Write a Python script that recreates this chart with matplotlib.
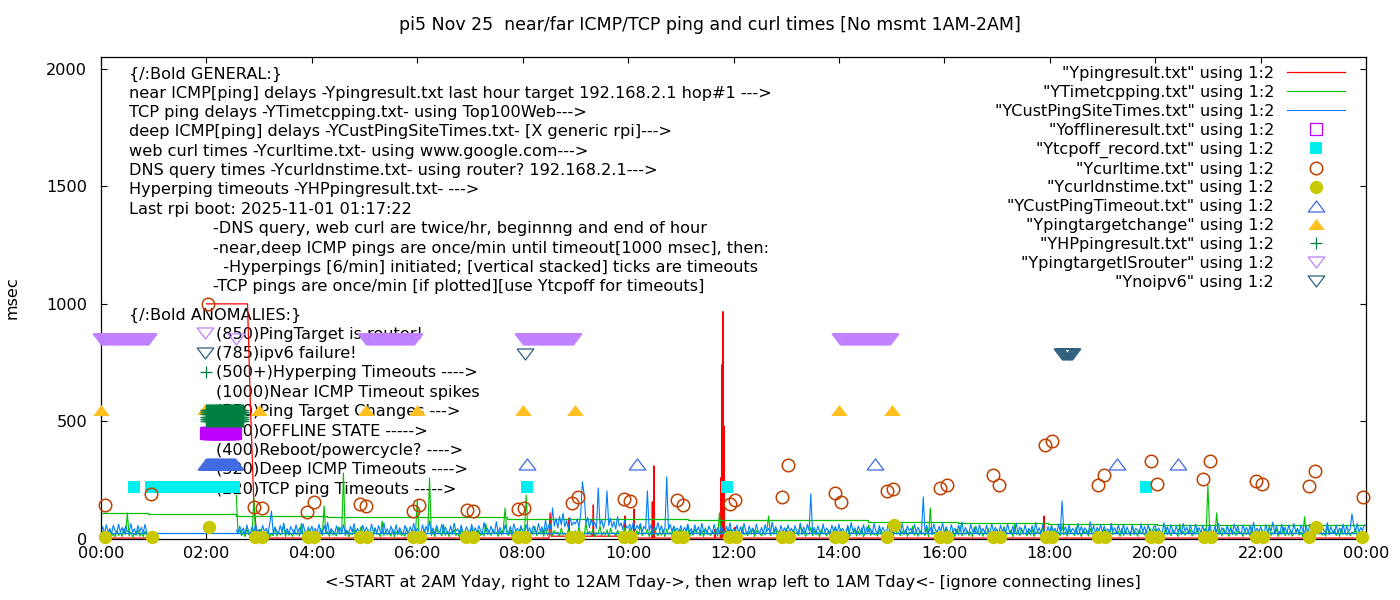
import numpy as np
import matplotlib.pyplot as plt
from matplotlib.path import Path

plt.rcParams['font.family'] = ['DejaVu Sans']
FS = 11.6
plt.rcParams['font.size'] = FS

# ---------------- data: x in hours after 00:00, y in msec ----------------
# deep ICMP (blue), 2-minute samples: 00:00-00:52, 02:34-02:58, then one row per hour 03..23
blue_0 = [30, 52, 24, 61, 28, 45, 22, 58, 35, 26, 63, 30, 49, 23, 55, 33, 27, 66, 29, 44,
          21, 57, 31, 50, 25, 62, 28]
blue_2 = [38, 24, 55, 29, 47, 22, 60, 33, 26, 52, 30, 64, 27]
blue_hours = [
    [41, 25, 58, 30, 46, 23, 62, 119, 28, 50, 35, 24, 57, 31, 68, 26, 44, 22, 53, 36, 27, 60, 29, 48, 24, 65, 33, 25, 51, 30],
    [55, 27, 46, 23, 63, 32, 26, 58, 29, 71, 25, 44, 34, 22, 56, 30, 49, 24, 61, 28, 37, 23, 54, 31, 66, 26, 45, 33, 24, 59],
    [28, 50, 35, 22, 64, 29, 47, 25, 57, 32, 26, 69, 30, 43, 23, 55, 34, 27, 61, 24, 48, 31, 22, 58, 36, 26, 52, 29, 67, 25],
    [45, 30, 23, 60, 28, 54, 33, 76, 26, 47, 22, 58, 35, 29, 63, 24, 50, 31, 27, 56, 23, 68, 32, 44, 25, 59, 30, 26, 52, 34],
    [27, 62, 29, 48, 24, 57, 36, 23, 70, 31, 45, 26, 54, 33, 28, 74, 25, 49, 30, 22, 60, 35, 27, 53, 24, 65, 32, 46, 29, 57],
    [34, 25, 61, 30, 48, 23, 56, 37, 28, 66, 31, 52, 26, 80, 35, 62, 42, 132, 55, 88, 47, 96, 60, 110, 52, 78, 45, 90, 58, 72],
    [64, 85, 50, 102, 243, 190, 66, 92, 48, 84, 57, 70, 45, 217, 60, 82, 47, 76, 205, 58, 88, 50, 74, 42, 95, 55, 68, 40, 80, 52],
    [46, 63, 38, 72, 35, 58, 44, 66, 30, 54, 41, 205, 36, 60, 28, 52, 39, 70, 33, 57, 26, 48, 264, 40, 62, 31, 55, 36, 47, 29],
    [57, 26, 49, 34, 64, 28, 45, 23, 60, 31, 52, 25, 67, 30, 43, 24, 56, 35, 27, 62, 29, 48, 22, 58, 33, 26, 54, 30, 69, 25],
    [44, 31, 59, 24, 52, 28, 66, 33, 23, 55, 30, 47, 26, 63, 35, 27, 50, 22, 61, 32, 45, 25, 72, 29, 53, 34, 24, 58, 28, 48],
    [26, 60, 31, 46, 23, 57, 34, 27, 68, 30, 51, 24, 62, 36, 192, 28, 49, 25, 56, 32, 22, 64, 29, 47, 35, 26, 59, 30, 53, 24],
    [63, 29, 45, 33, 22, 58, 27, 70, 31, 48, 25, 55, 36, 28, 61, 24, 52, 30, 44, 23, 67, 34, 26, 57, 29, 50, 32, 25, 62, 28],
    [47, 24, 59, 31, 53, 27, 65, 30, 22, 56, 35, 45, 26, 62, 29, 50, 33, 24, 179, 30, 58, 27, 48, 23, 64, 36, 28, 54, 31, 69],
    [25, 52, 34, 27, 61, 29, 46, 23, 57, 32, 72, 26, 49, 30, 24, 63, 35, 28, 55, 22, 60, 31, 45, 26, 58, 33, 25, 66, 29, 50],
    [36, 24, 59, 30, 47, 27, 64, 33, 22, 55, 29, 68, 25, 51, 35, 28, 60, 23, 46, 31, 57, 26, 70, 30, 48, 24, 62, 34, 27, 53],
    [29, 58, 32, 46, 25, 63, 30, 162, 35, 52, 24, 60, 28, 45, 33, 22, 66, 30, 54, 26, 48, 36, 27, 74, 31, 57, 23, 50, 34, 61],
    [26, 55, 30, 44, 23, 67, 32, 48, 25, 59, 34, 28, 63, 24, 51, 31, 22, 57, 29, 46, 36, 27, 65, 30, 53, 25, 60, 33, 24, 49],
    [58, 28, 47, 31, 25, 69, 30, 52, 23, 61, 34, 27, 55, 29, 44, 24, 66, 32, 50, 26, 59, 35, 22, 63, 30, 48, 27, 56, 31, 45],
    [24, 62, 33, 27, 52, 29, 67, 25, 48, 36, 23, 58, 30, 45, 26, 64, 32, 55, 28, 22, 60, 34, 49, 27, 57, 24, 70, 31, 46, 29],
    [53, 30, 25, 61, 28, 47, 35, 72, 26, 56, 31, 22, 63, 29, 50, 24, 58, 34, 27, 66, 30, 45, 23, 59, 36, 28, 54, 25, 62, 32],
    [27, 65, 31, 48, 24, 57, 35, 29, 70, 26, 52, 33, 23, 60, 30, 46, 28, 63, 25, 55, 34, 42, 107, 58, 31, 66, 27, 49, 36, 60],
]
blue_wrap = 26

# TCP ping (green), same sampling
green_0 = [14, 32, 10, 25, 18, 40, 12, 22, 9, 36, 15, 28, 11, 44, 20, 111, 13, 30, 8, 24,
           16, 38, 12, 27, 10, 33, 17]
green_2 = [187, 22, 40, 14, 31, 10, 45, 18, 27, 12, 175, 20, 36]
green_hours = [
    [15, 42, 11, 28, 19, 35, 9, 24, 14, 50, 12, 30, 17, 22, 60, 10, 33, 16, 26, 11, 41, 18, 29, 13, 66, 20, 25, 9, 37, 15],
    [12, 34, 19, 27, 10, 45, 15, 141, 22, 31, 11, 38, 17, 24, 13, 52, 20, 28, 281, 14, 35, 9, 26, 18, 43, 12, 30, 16, 53, 21],
    [25, 11, 39, 16, 28, 13, 47, 20, 23, 10, 76, 15, 33, 18, 26, 12, 42, 9, 31, 17, 37, 14, 24, 11, 48, 19, 29, 13, 36, 22],
    [166, 17, 30, 12, 41, 19, 27, 260, 14, 35, 10, 45, 22, 26, 13, 61, 16, 33, 11, 28, 20, 39, 15, 24, 9, 43, 18, 31, 12, 37],
    [13, 49, 21, 27, 10, 36, 16, 25, 12, 65, 19, 30, 14, 41, 22, 28, 11, 34, 17, 45, 132, 23, 15, 38, 10, 31, 20, 26, 13, 44],
    [40, 16, 187, 24, 11, 33, 19, 53, 14, 29, 21, 38, 12, 46, 17, 27, 63, 15, 35, 22, 30, 10, 47, 18, 25, 13, 42, 20, 32, 16],
    [35, 14, 51, 23, 28, 12, 71, 19, 33, 16, 43, 11, 27, 21, 55, 15, 30, 18, 39, 10, 46, 24, 26, 13, 37, 20, 31, 14, 48, 17],
    [21, 45, 15, 29, 12, 35, 19, 60, 14, 27, 22, 41, 11, 33, 17, 49, 24, 13, 30, 16, 38, 10, 43, 20, 28, 15, 54, 12, 34, 18],
    [39, 13, 26, 20, 53, 11, 31, 16, 43, 23, 27, 14, 36, 10, 47, 19, 25, 15, 33, 21, 40, 12, 111, 17, 29, 24, 35, 11, 44, 18],
    [16, 41, 22, 29, 12, 51, 18, 27, 14, 33, 20, 45, 10, 37, 25, 23, 13, 31, 17, 39, 98, 15, 28, 21, 43, 11, 35, 19, 26, 14],
    [45, 17, 30, 12, 40, 23, 27, 15, 63, 19, 33, 11, 25, 21, 49, 14, 35, 18, 29, 10, 42, 22, 26, 13, 37, 16, 31, 20, 52, 12],
    [25, 43, 14, 31, 19, 53, 11, 28, 22, 39, 13, 34, 17, 47, 10, 27, 21, 61, 15, 33, 18, 24, 12, 41, 20, 29, 14, 36, 16, 45],
    [35, 13, 49, 21, 27, 14, 33, 19, 41, 11, 29, 23, 55, 16, 31, 12, 38, 20, 26, 15, 44, 10, 132, 18, 30, 22, 37, 13, 28, 17],
    [19, 47, 15, 29, 22, 34, 11, 41, 17, 57, 13, 26, 20, 36, 14, 31, 10, 51, 24, 27, 16, 39, 12, 33, 19, 45, 15, 28, 21, 35],
    [41, 12, 33, 18, 53, 15, 27, 22, 39, 10, 65, 19, 29, 14, 45, 21, 26, 13, 35, 17, 43, 11, 31, 24, 28, 16, 49, 20, 34, 13],
    [27, 49, 16, 35, 21, 30, 14, 57, 19, 31, 12, 43, 23, 26, 15, 51, 18, 29, 11, 39, 25, 33, 13, 45, 20, 28, 16, 37, 22, 30],
    [16, 41, 20, 29, 13, 55, 18, 27, 23, 33, 11, 45, 15, 37, 21, 26, 14, 59, 19, 31, 12, 40, 24, 28, 17, 35, 10, 47, 22, 29],
    [45, 15, 35, 21, 27, 12, 51, 18, 31, 14, 41, 23, 26, 11, 63, 19, 33, 16, 29, 22, 39, 13, 27, 20, 47, 15, 34, 12, 43, 18],
    [230, 41, 25, 33, 16, 111, 20, 29, 14, 45, 22, 27, 12, 53, 18, 31, 15, 37, 23, 26, 11, 41, 19, 30, 13, 49, 21, 28, 16, 35],
    [21, 39, 13, 29, 18, 57, 15, 27, 22, 43, 11, 33, 20, 49, 14, 31, 17, 38, 12, 25, 23, 45, 16, 30, 10, 94, 19, 35, 14, 27],
    [39, 14, 31, 21, 47, 16, 27, 12, 53, 19, 29, 23, 41, 15, 35, 11, 45, 20, 26, 17, 37, 13, 30, 22, 43, 16, 28, 12, 36, 21],
]
# green connecting line (step levels)
green_wrap_x = [0, 0.89, 2.56, 4.29, 7.70, 11.14, 14.55, 16.26, 17.97, 20.03, 24]
green_wrap_y = [112, 106, 98, 95, 85, 81, 72, 68, 64, 60, 60]

# near ICMP (red)
red_pts = [(0.0, 4), (0.88, 4), (np.nan, np.nan),
           (2.0, 1000), (2.78, 1000), (2.83, 600), (2.90, 150), (2.96, 4),
           (8.50, 4), (8.52, 111), (8.54, 12), (8.87, 12), (8.88, 89), (8.89, 12),
           (9.33, 12), (9.34, 145), (9.35, 12), (9.93, 12), (9.94, 98), (9.95, 4),
           (10.10, 4), (10.11, 128), (10.12, 4), (10.45, 4), (10.46, 158), (10.47, 4),
           (10.48, 4), (10.49, 311), (10.50, 4), (11.64, 4), (11.65, 40), (11.66, 4),
           (11.75, 4), (11.76, 260), (11.77, 4), (11.78, 741), (11.79, 4),
           (11.80, 967), (11.81, 4), (11.82, 481), (11.83, 4), (12.02, 4),
           (12.03, 50), (12.04, 4), (17.88, 4), (17.89, 98), (17.90, 4), (24.0, 4)]

# curl times
curl_t = [0.08, 0.95, 2.03, 2.90, 3.05, 3.91, 4.04, 4.91, 5.03, 5.92, 6.03, 6.94,
          7.06, 7.91, 8.03, 8.94, 9.05, 9.92, 10.04, 10.93, 11.04, 11.93, 12.03,
          12.92, 13.03, 13.93, 14.04, 14.91, 15.03, 15.92, 16.05, 16.92, 17.04,
          17.91, 18.04, 18.91, 19.03, 19.92, 20.03, 20.91, 21.04, 21.91, 22.03,
          22.92, 23.03, 23.94]
curl_v = [145, 192, 1001, 136, 132, 115, 158, 149, 141, 119, 145, 124,
          119, 128, 132, 153, 179, 170, 162, 166, 145, 149, 166,
          179, 315, 196, 158, 205, 213, 217, 230, 273, 230,
          400, 418, 230, 273, 332, 234, 256, 332, 247, 234,
          226, 290, 179]

# DNS times
dns_t = [0.07, 0.97, 2.05, 2.92, 3.05, 3.92, 4.05, 4.92, 5.05, 5.92, 6.05, 6.92,
         7.05, 7.92, 8.05, 8.92, 9.05, 9.92, 10.05, 10.92, 11.05, 11.92, 12.05,
         12.92, 13.05, 13.92, 14.05, 14.92, 15.05, 15.92, 16.05, 16.92, 17.05,
         17.92, 18.05, 18.92, 19.05, 19.92, 20.05, 20.92, 21.05, 21.92, 22.05,
         22.92, 23.05, 23.92]
dns_v = [8, 8, 51, 8, 8, 8, 8, 8, 8, 8, 8, 8,
         8, 8, 8, 8, 8, 8, 8, 8, 8, 8, 8,
         8, 8, 8, 8, 8, 60, 8, 8, 8, 8,
         8, 8, 8, 8, 8, 8, 8, 8, 8, 8,
         8, 51, 8]

# event markers: (first, last) hour of once-per-minute records, and level
offline_spans = [(1.99, 2.54)]
offline_lvl = 450
tcpoff_spans = [(0.63, 0.63), (0.95, 2.52), (8.08, 8.08), (11.88, 11.88), (19.83, 19.83)]
tcpoff_lvl = 220
custto_spans = [(1.99, 2.54), (8.08, 8.08), (10.17, 10.17), (14.69, 14.69),
                (19.28, 19.28), (20.44, 20.44)]
custto_lvl = 320
target_t = [0.0, 3.0, 5.03, 6.0, 8.0, 9.0, 14.0, 15.0]
target_lvl = 550
hp_spans = [(1.99, 2.69)]
hp_lvls = [500, 510, 520, 530, 540, 550]
router_spans = [(0.0, 0.90), (2.57, 2.57), (5.03, 5.94), (8.01, 8.96), (14.02, 14.97)]
router_lvl = 850
noipv6_spans = [(8.05, 8.05), (18.24, 18.43)]
noipv6_lvl = 785

general_lines = [
    "{/:Bold GENERAL:}",
    "near ICMP[ping] delays -Ypingresult.txt last hour target 192.168.2.1 hop#1 --->",
    "TCP ping delays -YTimetcpping.txt- using Top100Web--->",
    "deep ICMP[ping] delays -YCustPingSiteTimes.txt- [X generic rpi]--->",
    "web curl times -Ycurltime.txt- using www.google.com--->",
    "DNS query times -Ycurldnstime.txt- using router? 192.168.2.1--->",
    "Hyperping timeouts -YHPpingresult.txt- --->",
    "Last rpi boot: 2025-11-01 01:17:22",
]
note_lines = [
    "-DNS query, web curl are twice/hr, beginnng and end of hour",
    "-near,deep ICMP pings are once/min until timeout[1000 msec], then:",
    "  -Hyperpings [6/min] initiated; [vertical stacked] ticks are timeouts",
    "-TCP pings are once/min [if plotted][use Ytcpoff for timeouts]",
]
anomaly_lines = [
    "(850)PingTarget is router!",
    "(785)ipv6 failure!",
    "(500+)Hyperping Timeouts ---->",
    "(1000)Near ICMP Timeout spikes",
    "(550)Ping Target Changes --->",
    "(450)OFFLINE STATE ----->",
    "(400)Reboot/powercycle? ---->",
    "(320)Deep ICMP Timeouts ---->",
    "(220)TCP ping Timeouts ----->",
]


def per_minute(spans):
    t = []
    for a, b in spans:
        t.extend(np.arange(a, b + 1e-6, 1 / 60.0))
    return np.array(t)


def build(first, second, hours):
    # 2-minute samples -> (t, y) with a break in the no-data gap
    step = 2 / 60.0
    t = [np.arange(len(first)) * step, [np.nan], 2 + 34 / 60 + np.arange(len(second)) * step]
    y = [first, [np.nan], second]
    for i, row in enumerate(hours):
        t.append(3 + i + np.arange(len(row)) * step)
        y.append(row)
    return np.concatenate(t), np.concatenate(y).astype(float)


blue_t, blue_y = build(blue_0, blue_2, blue_hours)
green_t, green_y = build(green_0, green_2, green_hours)
red_t = [p[0] for p in red_pts]
red_y = [p[1] for p in red_pts]

tri_up = Path([(-1, -0.66), (1, -0.66), (0, 0.66), (0, 0)], closed=True)
tri_dn = Path([(-1, 0.66), (1, 0.66), (0, -0.66), (0, 0)], closed=True)

W, H = 1400, 600
fig = plt.figure(figsize=(14, 6), dpi=100)
ax = fig.add_axes([101 / W, 61 / H, 1265 / W, 482 / H])


def fx(px):
    return px / W


def fy(py):
    return 1 - py / H


# ---------------- plotting ----------------
ax.plot(red_t, red_y, color='#ff0000', lw=0.9, zorder=2,
        label='"Ypingresult.txt" using 1:2')
ax.plot(green_t, green_y, color='#00c000', lw=0.8, zorder=2.1,
        label='"YTimetcpping.txt" using 1:2')
ax.step(green_wrap_x, green_wrap_y, where='post', color='#00c000', lw=0.9, zorder=2.1)
ax.plot(blue_t, blue_y, color='#0080ff', lw=0.8, zorder=2.2,
        label='"YCustPingSiteTimes.txt" using 1:2')
ax.plot([0, 24], [blue_wrap, blue_wrap], color='#0080ff', lw=0.9, zorder=2.2)

t = per_minute(offline_spans)
ax.plot(t, np.full(len(t), offline_lvl), ls='none', marker='s', ms=9, mfc='none',
        mec='#c000ff', mew=0.9, clip_on=False, zorder=3,
        label='"Yofflineresult.txt" using 1:2')
t = per_minute(tcpoff_spans)
ax.plot(t, np.full(len(t), tcpoff_lvl), ls='none', marker='s', ms=9.3,
        color='#00eeee', mew=0, clip_on=False, zorder=3,
        label='"Ytcpoff_record.txt" using 1:2')
ax.plot(curl_t, curl_v, ls='none', marker='o', ms=9, mfc='none', mec='#c04000',
        mew=1.1, clip_on=False, zorder=3, label='"Ycurltime.txt" using 1:2')
ax.plot(dns_t, dns_v, ls='none', marker='o', ms=9.6, color='#c8c800', mew=0,
        clip_on=False, zorder=3, label='"Ycurldnstime.txt" using 1:2')
t = per_minute(custto_spans)
ax.plot(t, np.full(len(t), custto_lvl), ls='none', marker=tri_up, ms=12, mfc='none',
        mec='#4169e1', mew=0.9, clip_on=False, zorder=3,
        label='"YCustPingTimeout.txt" using 1:2')
ax.plot(target_t, np.full(len(target_t), target_lvl), ls='none', marker=tri_up, ms=12,
        color='#ffc020', mew=0, clip_on=False, zorder=3,
        label='"Ypingtargetchange" using 1:2')
t = per_minute(hp_spans)
hx = np.repeat(t, len(hp_lvls))
hy = np.tile(hp_lvls, len(t))
ax.plot(hx, hy, ls='none', marker='+', ms=8.5, color='#008040', mew=0.9,
        clip_on=False, zorder=3, label='"YHPpingresult.txt" using 1:2')
t = per_minute(router_spans)
ax.plot(t, np.full(len(t), router_lvl), ls='none', marker=tri_dn, ms=12, mfc='none',
        mec='#c080ff', mew=0.9, clip_on=False, zorder=3,
        label='"YpingtargetISrouter" using 1:2')
t = per_minute(noipv6_spans)
ax.plot(t, np.full(len(t), noipv6_lvl), ls='none', marker=tri_dn, ms=12, mfc='none',
        mec='#306080', mew=0.9, clip_on=False, zorder=3,
        label='"Ynoipv6" using 1:2')

# ---------------- text block ----------------
for i, s in enumerate(general_lines):
    ax.text(fx(129), fy(74 + i * 19.3), s, transform=fig.transFigure,
            va='center', ha='left', zorder=1)
for s, (px, py) in zip(note_lines, [(213, 229), (213, 248), (213, 267), (213, 286)]):
    ax.text(fx(px), fy(py), s, transform=fig.transFigure, va='center', ha='left', zorder=1)
ax.text(fx(129), fy(315), "{/:Bold ANOMALIES:}", transform=fig.transFigure,
        va='center', ha='left', zorder=1)
for i, s in enumerate(anomaly_lines):
    ax.text(fx(216), fy(334 + i * 19.4), s, transform=fig.transFigure,
            va='center', ha='left', zorder=1)
# key symbols in front of anomaly lines
ax.plot([fx(205)], [fy(333)], transform=fig.transFigure, marker=tri_dn, ms=12,
        mfc='none', mec='#c080ff', mew=0.9, clip_on=False, zorder=1.5)
ax.plot([fx(205)], [fy(353)], transform=fig.transFigure, marker=tri_dn, ms=12,
        mfc='none', mec='#306080', mew=0.9, clip_on=False, zorder=1.5)
ax.plot([fx(206)], [fy(372)], transform=fig.transFigure, marker='+', ms=8.5,
        color='#008040', mew=0.9, clip_on=False, zorder=1.5)
ax.plot([fx(205)], [fy(409)], transform=fig.transFigure, marker=tri_up, ms=12,
        color='#ffc020', mew=0, clip_on=False, zorder=1.5)

# ---------------- axes ----------------
ax.set_xlim(0, 24)
ax.set_ylim(0, 2050)
xt = np.arange(0, 25, 2)
ax.set_xticks(xt)
ax.set_xticklabels(['%02d:00' % (h % 24) for h in xt])
ax.set_yticks([0, 500, 1000, 1500, 2000])
ax.tick_params(direction='in', length=4.5, width=0.8, top=True, right=True,
               labelsize=FS, colors='black')
ax.tick_params(axis='x', pad=5)
ax.tick_params(axis='y', pad=10)
for sp in ax.spines.values():
    sp.set_linewidth(0.9)

fig.text(0.507, fy(25), 'pi5 Nov 25  near/far ICMP/TCP ping and curl times [No msmt 1AM-2AM]',
         ha='center', va='center', fontsize=12.5)
fig.text(fx(733), fy(582), '<-START at 2AM Yday, right to 12AM Tday->, then wrap left to 1AM Tday<- [ignore connecting lines]',
         ha='center', va='center', fontsize=FS)
fig.text(fx(12), fy(298), 'msec', rotation=90, ha='center', va='center', fontsize=FS)

leg = ax.legend(loc='upper right', bbox_to_anchor=((1345 - 101) / 1265, (539 - 66) / 482),
                frameon=False, markerfirst=False, numpoints=1, handlelength=3.6,
                handletextpad=0.8, labelspacing=0.24, borderpad=0, borderaxespad=0,
                fontsize=FS)

fig.savefig('out.png', dpi=100)
